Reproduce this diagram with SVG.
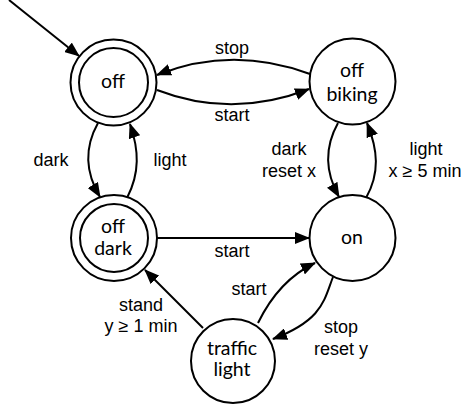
<svg xmlns="http://www.w3.org/2000/svg" width="463" height="408" viewBox="0 0 463 408">
  <style>
    .state { fill: #fff; stroke: #000; stroke-width: 2; }
    .inner { fill: none; stroke: #000; stroke-width: 2; }
    .name { font-family: Lato, "Open Sans", sans-serif; font-size: 19.5px; text-anchor: middle; fill: #000; }
    .edge { fill: none; stroke: #000; stroke-width: 2; marker-end: url(#arrow); }
    .lbl { font-family: "Liberation Sans", Arial, sans-serif; font-size: 18px; text-anchor: middle; fill: #000; }
  </style>
  <defs>
    <marker id="arrow" markerUnits="userSpaceOnUse" markerWidth="15" markerHeight="12" refX="14" refY="6" orient="auto">
      <path d="M0,0 L15,6 L0,12 z" fill="#000"/>
    </marker>
  </defs>
  <rect width="463" height="408" fill="#fff"/>

  <!-- transitions -->
  <g id="connectors">
    <path class="edge" d="M9,0 L79,56"/>
    <path class="edge" d="M310,74 Q232,45 157,75"/>
    <path class="edge" d="M157,90 Q232,119 309,89"/>
    <path class="edge" d="M98,123 C84,148 85,172 100,197"/>
    <path class="edge" d="M127,198 C140,173 139,150 130,124"/>
    <path class="edge" d="M338,123 C324,148 325,172 339,197"/>
    <path class="edge" d="M366,198 C380,173 378,150 367,123"/>
    <path class="edge" d="M157,238 L309,238"/>
    <path class="edge" d="M258,323 Q279,280 315,263"/>
    <path class="edge" d="M333,277 C324,300 323,320 273,339"/>
    <path class="edge" d="M203,328 L145,270"/>
  </g>

  <g id="edge-labels">
    <text class="lbl" x="232" y="54">stop</text>
    <text class="lbl" x="232" y="121">start</text>
    <text class="lbl" x="51" y="166">dark</text>
    <text class="lbl" x="170" y="166">light</text>
    <text class="lbl" x="289" y="155">dark</text>
    <text class="lbl" x="289" y="177">reset x</text>
    <text class="lbl" x="426" y="155">light</text>
    <text class="lbl" x="425" y="177">x ≥ 5 min</text>
    <text class="lbl" x="232" y="257">start</text>
    <text class="lbl" x="249" y="295">start</text>
    <text class="lbl" x="341" y="333">stop</text>
    <text class="lbl" x="341" y="355">reset y</text>
    <text class="lbl" x="141" y="311">stand</text>
    <text class="lbl" x="141" y="332">y ≥ 1 min</text>
  </g>

  <g id="off">
    <circle class="state" cx="113.5" cy="82.5" r="43"/>
    <circle class="inner" cx="113.5" cy="82.5" r="34.5"/>
    <text class="name" x="113" y="88">off</text>
  </g>
  <g id="off-biking">
    <circle class="state" cx="352.5" cy="81.5" r="43"/>
    <text class="name" x="352" y="77">off</text>
    <text class="name" x="352" y="101">biking</text>
  </g>
  <g id="off-dark">
    <circle class="state" cx="114" cy="238" r="43"/>
    <circle class="inner" cx="114" cy="238" r="34"/>
    <text class="name" x="113" y="233">off</text>
    <text class="name" x="113" y="255">dark</text>
  </g>
  <g id="on">
    <circle class="state" cx="352.5" cy="238" r="43"/>
    <text class="name" x="352" y="244">on</text>
  </g>
  <g id="traffic-light">
    <circle class="state" cx="233" cy="361" r="42"/>
    <text class="name" x="232" y="355">traffic</text>
    <text class="name" x="232" y="376">light</text>
  </g>
</svg>
